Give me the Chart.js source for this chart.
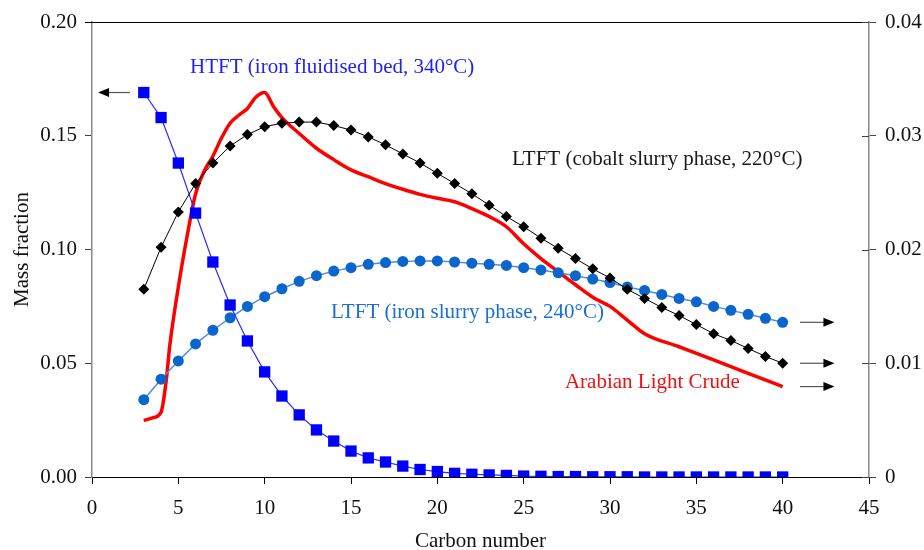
<!DOCTYPE html>
<html>
<head>
<meta charset="utf-8">
<script src="https://cdn.jsdelivr.net/npm/chart.js@4/dist/chart.umd.min.js"></script>
<style>
  body { margin: 0; background: #fff; }
  #wrap { width: 924px; height: 550px; }
</style>
</head>
<body>
<div id="wrap"><canvas id="chart" width="924" height="550"></canvas></div>
<script>
// carbon numbers for the three FT series
const carbon = [3, 4, 5, 6, 7, 8, 9, 10, 11, 12, 13, 14, 15, 16, 17, 18, 19, 20, 21, 22,
    23, 24, 25, 26, 27, 28, 29, 30, 31, 32, 33, 34, 35, 36, 37, 38, 39, 40];

// HTFT (iron fluidised bed) - left axis
const htft = [0.169, 0.158, 0.138, 0.116, 0.0945, 0.0756, 0.0598, 0.0462, 0.0356, 0.0273,
    0.0207, 0.0158, 0.0114, 0.0084, 0.0066, 0.0048, 0.0033, 0.0024, 0.0016, 0.0012,
    0.0009, 0.0007, 0.0004, 0.0003, 0.0002, 0.0002, 0.0001, 0.0001, 0.0001, 0,
    0, 0, 0, 0, 0, 0, 0, 0];

// LTFT cobalt slurry - right axis
const ltftCobalt = [0.0165, 0.0202, 0.0233, 0.0258, 0.0276, 0.0291, 0.0301, 0.0308, 0.0311, 0.0312,
    0.0312, 0.0309, 0.0305, 0.0299, 0.0292, 0.0284, 0.0276, 0.0267, 0.0258, 0.0249,
    0.0239, 0.0229, 0.0220, 0.0210, 0.0201, 0.0192, 0.0183, 0.0175, 0.0165, 0.0157,
    0.0149, 0.0142, 0.0134, 0.0126, 0.0120, 0.0113, 0.0106, 0.0100];

// LTFT iron slurry - right axis
const ltftIron = [0.0068, 0.0086, 0.0102, 0.0117, 0.0129, 0.0140, 0.0150, 0.01585, 0.01655, 0.0172,
    0.0177, 0.0181, 0.0184, 0.0187, 0.01885, 0.01895, 0.0190, 0.0190, 0.0189, 0.0188,
    0.0187, 0.0186, 0.0184, 0.0182, 0.01795, 0.0177, 0.0174, 0.0171, 0.0167, 0.0164,
    0.01605, 0.0157, 0.0154, 0.0150, 0.01465, 0.0143, 0.01395, 0.0136];

// Arabian Light Crude - right axis
const crudeCarbon = [3, 3.5, 4, 4.3, 4.5, 5, 5.5, 6, 6.5, 7, 7.5, 8, 8.5, 9, 9.5, 10, 10.5, 11,
    12, 13, 14, 15, 16, 17, 18, 19, 20, 21, 22, 23, 24, 25, 26, 27, 28, 29, 30, 31, 32,
    34, 36, 38, 40];
const crude = [0.00495, 0.0052, 0.0057, 0.0085, 0.0115, 0.0167, 0.0211, 0.0249, 0.0269, 0.0282,
    0.0298, 0.0311, 0.0318, 0.0324, 0.0334, 0.0338, 0.0326, 0.0316,
    0.0302, 0.0289, 0.0279, 0.0270, 0.0264, 0.0258, 0.0253, 0.02485, 0.0245, 0.0242, 0.0236,
    0.0229, 0.0220, 0.0205, 0.0192, 0.01805, 0.0169, 0.0158, 0.0150, 0.0138, 0.0126,
    0.01145, 0.0103, 0.0091, 0.00795];

const leftTicks = ['0.00', '0.05', '0.10', '0.15', '0.20'];
const rightTicks = ['0', '0.01', '0.02', '0.03', '0.04'];

const serif = '"Liberation Serif", "Times New Roman", serif';

function pts(xs, ys) {
    return xs.map((x, i) => ({ x: x, y: ys[i] }));
}

// text labels and the axis arrows
const notes = {
    id: 'notes',
    afterDatasetsDraw(chart) {
        const ctx = chart.ctx;
        const xs = chart.scales.x, yl = chart.scales.y, yr = chart.scales.y1;
        const area = chart.chartArea;
        ctx.save();

        // top frame line
        ctx.strokeStyle = '#000';
        ctx.lineWidth = 1;
        ctx.beginPath();
        ctx.moveTo(area.left - 7, area.top + 0.5);
        ctx.lineTo(area.right, area.top + 0.5);
        ctx.stroke();

        // right axis ticks also reach inside
        ctx.strokeStyle = '#444';
        yr.ticks.forEach(t => {
            const py = Math.round(yr.getPixelForValue(t.value)) + 0.5;
            ctx.beginPath();
            ctx.moveTo(area.right - 7, py);
            ctx.lineTo(area.right, py);
            ctx.stroke();
        });

        ctx.font = '21px ' + serif;
        ctx.textBaseline = 'middle';
        ctx.textAlign = 'left';
        ctx.fillStyle = '#2222ee';
        ctx.fillText('HTFT (iron fluidised bed, 340°C)', xs.getPixelForValue(5.68), yl.getPixelForValue(0.1798));
        ctx.fillStyle = '#1a1a1a';
        ctx.fillText('LTFT (cobalt slurry phase, 220°C)', xs.getPixelForValue(24.32), yr.getPixelForValue(0.0279));
        ctx.fillStyle = '#1a6fd0';
        ctx.fillText('LTFT (iron slurry phase, 240°C)', xs.getPixelForValue(13.84), yr.getPixelForValue(0.01442));
        ctx.fillStyle = '#ee1111';
        ctx.fillText('Arabian Light Crude', xs.getPixelForValue(27.39), yr.getPixelForValue(0.00835));

        function arrow(x0, x1, y) {
            const dir = x1 > x0 ? 1 : -1;
            ctx.strokeStyle = '#555';
            ctx.lineWidth = 1.2;
            ctx.beginPath();
            ctx.moveTo(x0, y);
            ctx.lineTo(x1 - dir * 8, y);
            ctx.stroke();
            ctx.fillStyle = '#000';
            ctx.beginPath();
            ctx.moveTo(x1, y);
            ctx.lineTo(x1 - dir * 11, y - 4.5);
            ctx.lineTo(x1 - dir * 11, y + 4.5);
            ctx.closePath();
            ctx.fill();
        }
        arrow(xs.getPixelForValue(2.2), xs.getPixelForValue(0.35), yl.getPixelForValue(htft[0]));
        const last = carbon.length - 1;
        arrow(xs.getPixelForValue(41.0), xs.getPixelForValue(43.0), yr.getPixelForValue(ltftIron[last]));
        arrow(xs.getPixelForValue(41.0), xs.getPixelForValue(43.0), yr.getPixelForValue(ltftCobalt[last]));
        arrow(xs.getPixelForValue(41.0), xs.getPixelForValue(43.0), yr.getPixelForValue(crude[crude.length - 1]));
        ctx.restore();
    }
};

const ctx = document.getElementById('chart').getContext('2d');
const chart = new Chart(ctx, {
    type: 'scatter',
    data: {
        datasets: [
            {
                label: 'LTFT (cobalt slurry phase, 220°C)',
                data: pts(carbon, ltftCobalt),
                yAxisID: 'y1',
                showLine: true,
                borderColor: '#000',
                borderWidth: 1,
                backgroundColor: '#000',
                pointStyle: 'rectRot',
                pointRadius: 5.5,
                pointBorderWidth: 0
            },
            {
                label: 'HTFT (iron fluidised bed, 340°C)',
                data: pts(carbon, htft),
                yAxisID: 'y',
                showLine: true,
                borderColor: '#2a2aff',
                borderWidth: 1.2,
                backgroundColor: '#0000ff',
                pointStyle: 'rect',
                pointRadius: 8,
                pointBorderWidth: 0
            },
            {
                label: 'LTFT (iron slurry phase, 240°C)',
                data: pts(carbon, ltftIron),
                yAxisID: 'y1',
                showLine: true,
                borderColor: '#4a8fe0',
                borderWidth: 1.5,
                backgroundColor: '#0a66cc',
                pointStyle: 'circle',
                pointRadius: 5.5,
                pointBorderWidth: 0
            },
            {
                label: 'Arabian Light Crude',
                data: pts(crudeCarbon, crude),
                yAxisID: 'y1',
                showLine: true,
                borderColor: '#ff0000',
                borderWidth: 3.5,
                pointRadius: 0,
                cubicInterpolationMode: 'monotone'
            }
        ]
    },
    options: {
        responsive: false,
        animation: false,
        layout: { padding: { top: 22, right: 0, left: 0, bottom: 0 } },
        plugins: {
            legend: { display: false },
            tooltip: { enabled: false }
        },
        scales: {
            x: {
                type: 'linear',
                min: 0,
                max: 45,
                afterFit: s => { s.height = 73; },
                border: { color: '#000', width: 1 },
                grid: { drawOnChartArea: false, tickLength: 7, color: '#000' },
                ticks: { stepSize: 5, padding: 12, color: '#111', font: { family: serif, size: 21 } },
                title: {
                    display: true,
                    text: 'Carbon number',
                    color: '#111',
                    font: { family: serif, size: 21, lineHeight: 1 },
                    padding: { top: 0, bottom: -2 }
                }
            },
            y: {
                position: 'left',
                min: 0,
                max: 0.2,
                afterFit: s => { s.width = 92; },
                border: { color: '#888', width: 1.5 },
                grid: { drawOnChartArea: false, tickLength: 7, color: '#444' },
                ticks: {
                    stepSize: 0.05,
                    padding: 8,
                    color: '#111',
                    font: { family: serif, size: 21 },
                    callback: (v, i) => leftTicks[i]
                },
                title: {
                    display: true,
                    text: 'Mass fraction',
                    color: '#111',
                    font: { family: serif, size: 21, lineHeight: 1 },
                    padding: { top: 12, bottom: 0 }
                }
            },
            y1: {
                position: 'right',
                min: 0,
                max: 0.04,
                afterFit: s => { s.width = 55; },
                border: { color: '#888', width: 1.5 },
                grid: { drawOnChartArea: false, tickLength: 7, color: '#444' },
                ticks: {
                    stepSize: 0.01,
                    padding: 9,
                    color: '#111',
                    font: { family: serif, size: 21 },
                    callback: (v, i) => rightTicks[i]
                }
            }
        }
    },
    plugins: [notes]
});
</script>
</body>
</html>
